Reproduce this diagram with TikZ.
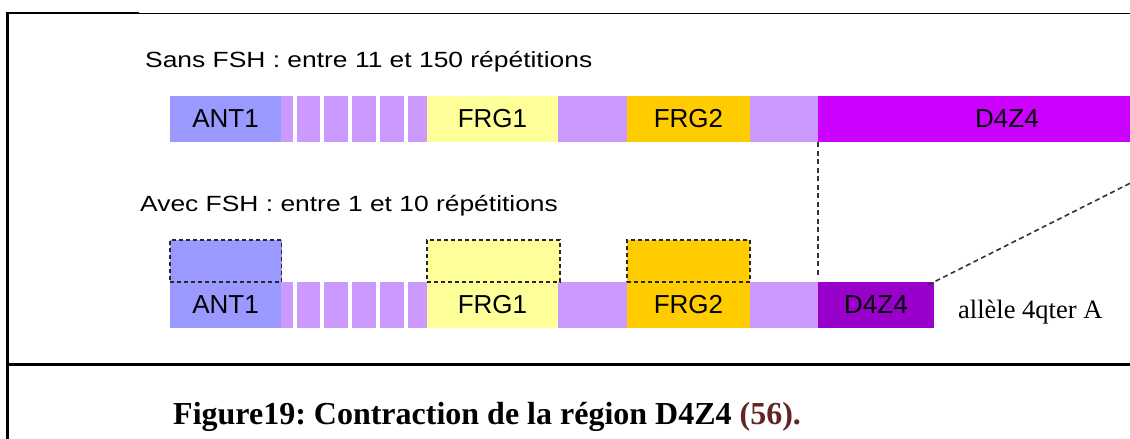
\documentclass[tikz,border=0pt]{standalone}
\usepackage{graphicx}
\usepackage{fontspec}
\newfontfamily\labelfont{Liberation Sans}
\newfontfamily\capfont{Liberation Serif}

\definecolor{antblue}{HTML}{9999FF}
\definecolor{lilac}{HTML}{CC99FF}
\definecolor{frgyellow}{HTML}{FFFF99}
\definecolor{frgorange}{HTML}{FFCC00}
\definecolor{dzlong}{HTML}{CC00FF}
\definecolor{dzshort}{HTML}{9900CC}
\definecolor{refred}{HTML}{632423}

\newcommand{\widetext}[1]{\scalebox{1.2}[1]{#1}}

\tikzset{
  seg/.style={inner sep=0pt, outer sep=0pt, anchor=north west,
    minimum height=46pt, font=\labelfont\fontsize{26}{28}\selectfont},
  ghostbox/.style={inner sep=0pt, outer sep=0pt, anchor=south west,
    minimum height=42pt, draw=black!85, line width=1.3pt,
    dash pattern=on 4pt off 3pt},
  link/.style={draw=black!80, line width=1.6pt, dash pattern=on 5pt off 3.5pt},
  heading/.style={inner sep=0pt, anchor=base west,
    font=\labelfont\fontsize{22}{24}\selectfont},
  frame/.style={draw=black, line cap=rect},
}

\begin{document}
\frenchspacing
\begin{tikzpicture}[x=1pt, y=-1pt]
\useasboundingbox (0,0) rectangle (1130,439);
\clip (0,0) rectangle (1130,439);

% frame
\draw[frame, line width=1pt] (138,13) -- (1130,13);
\draw[frame, line width=2pt] (7,13) -- (138,13);
\draw[frame, line width=3pt] (7,13) -- (7,439);
\draw[frame, line width=3pt] (7,364) -- (1130,364);

% headings
\node[heading] (h1) at (145,67) {\widetext{Sans FSH : entre 11 et 150 répétitions}};
\node[heading] (h2) at (140,211) {\widetext{Avec FSH : entre 1 et 10 répétitions}};

% long allele (top row)
\fill[lilac] (281,96) rectangle (427,142);
\fill[lilac] (558,96) rectangle (627,142);
\fill[lilac] (750,96) rectangle (818,142);
\foreach \g in {294.7,322,350,378.3,405.7}
  \fill[white] (\g-2,96) rectangle (\g+2,142);
\node[seg, fill=antblue, minimum width=111pt] (antA) at (170,96) {ANT1};
\node[seg, fill=frgyellow, minimum width=131pt] (frgA) at (427,96) {FRG1};
\node[seg, fill=frgorange, minimum width=123pt] (frgB) at (627,96) {FRG2};
\node[seg, fill=dzlong, minimum width=378pt] (dzA) at (818,96) {D4Z4};
\coordinate (farend) at (1212,142);

% contracted allele (bottom row)
\fill[lilac] (281,282) rectangle (427,328);
\fill[lilac] (558,282) rectangle (627,328);
\fill[lilac] (750,282) rectangle (818,328);
\foreach \g in {294.7,322,350,378.3,405.7}
  \fill[white] (\g-2,282) rectangle (\g+2,328);
\node[seg, fill=antblue, minimum width=111pt] (antB) at (170,282) {ANT1};
\node[seg, fill=frgyellow, minimum width=131pt] (frgC) at (427,282) {FRG1};
\node[seg, fill=frgorange, minimum width=123pt] (frgD) at (627,282) {FRG2};
\node[seg, fill=dzshort, minimum width=116pt] (dzB) at (818,282) {D4Z4};

% dashed outlines above the contracted allele
\node[ghostbox, fill=antblue, minimum width=111.5pt] (antG) at (170,282) {};
\node[ghostbox, fill=frgyellow, minimum width=133pt] (frgG) at (427,282) {};
\node[ghostbox, fill=frgorange, minimum width=123pt] (frgH) at (627,282) {};

% contraction links
\draw[link] (dzA.south west) -- ([yshift=5pt]dzB.north west);
\draw[link] ([xshift=-6pt,yshift=-3pt]dzB.north east) -- (farend);

% allele name
\node[inner sep=0pt, anchor=base west, font=\capfont\fontsize{26.5}{28}\selectfont]
  (allele) at (958,318) {allèle 4qter A};

% caption
\node[inner sep=0pt, anchor=base west, font=\capfont\bfseries\fontsize{32}{35}\selectfont]
  (caption) at (173,424) {Figure19: Contraction de la région D4Z4 \textcolor{refred}{(56).}};
\end{tikzpicture}
\end{document}
